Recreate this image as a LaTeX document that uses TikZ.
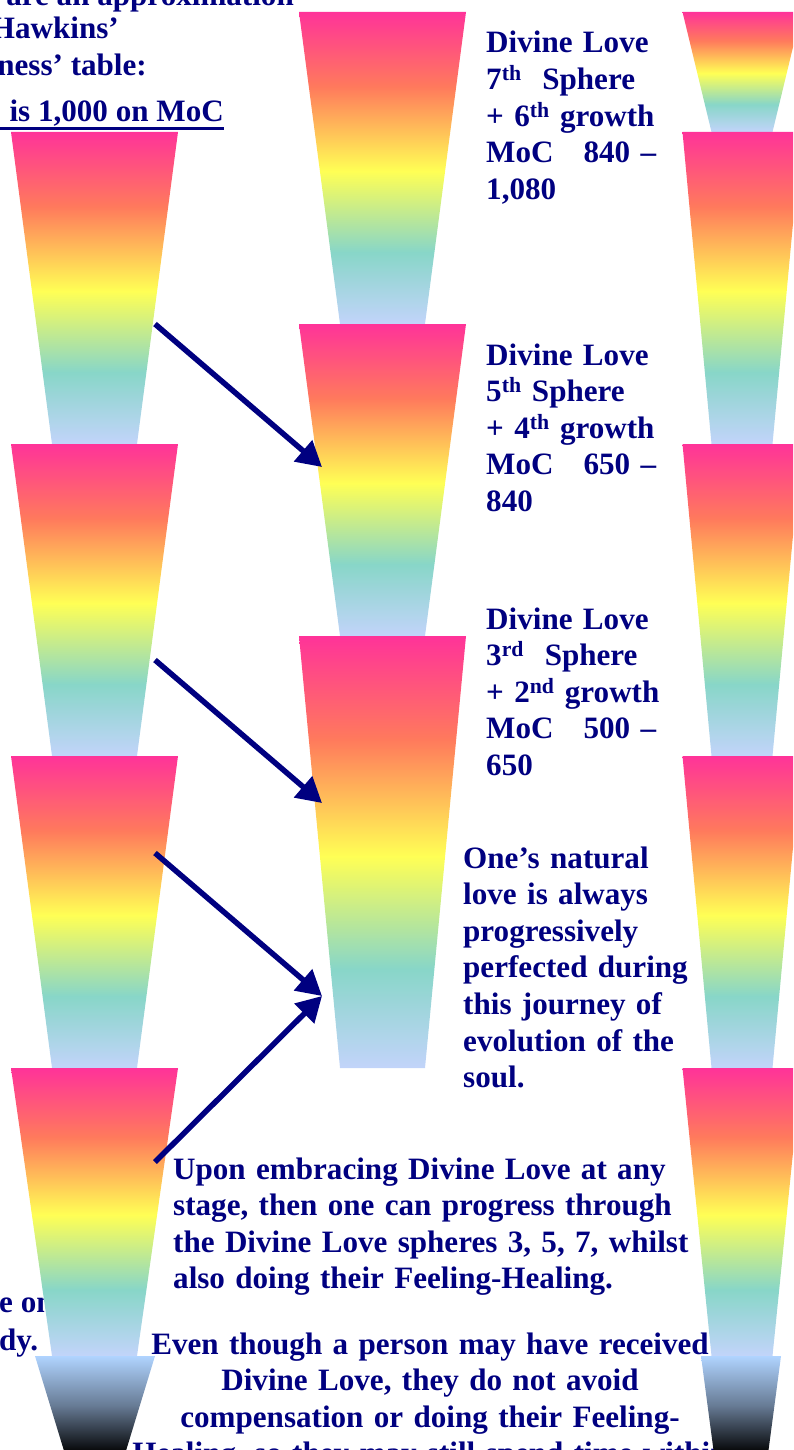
\documentclass[tikz,border=0pt]{standalone}
\usepackage{fontspec}
\setmainfont{Liberation Serif}
\usetikzlibrary{arrows.meta, calc}

\definecolor{navy}{RGB}{0,0,128}
\definecolor{cuppink}{RGB}{255,51,153}
\definecolor{cupcoral}{RGB}{255,122,92}
\definecolor{cupyellow}{RGB}{255,255,85}
\definecolor{cupteal}{RGB}{136,214,200}
\definecolor{cupblue}{RGB}{194,212,250}
\definecolor{darktop}{RGB}{176,212,255}
\definecolor{darkmid}{RGB}{104,124,150}

\pgfdeclareverticalshading{rainbowcup}{100bp}{color(0bp)=(cupblue); color(25bp)=(cupblue); color(36.5bp)=(cupteal); color(49.5bp)=(cupyellow); color(63bp)=(cupcoral); color(75bp)=(cuppink); color(100bp)=(cuppink)}
\pgfdeclareverticalshading{darkcup}{100bp}{color(0bp)=(black); color(25bp)=(black); color(50bp)=(darkmid); color(75bp)=(darktop); color(100bp)=(darktop)}

% cup: name, shading, centre x, top y, bottom y, top half width, bottom half width
\newcommand{\drawcup}[7]{%
  \shade[shading=#2] ({#3-#6},-#4) coordinate (#1-tl) -- ({#3+#6},-#4) coordinate (#1-tr)
    -- ({#3+#7},-#5) coordinate (#1-br) -- ({#3-#7},-#5) coordinate (#1-bl) -- cycle;}

\begin{document}
\begin{tikzpicture}[
    x=1pt, y=1pt,
    note/.style={inner sep=0pt, text=navy, font=\fontsize{31.1}{36.6}\selectfont\bfseries},
    block/.style={note, text width=560pt, align=left, anchor=base west},
    link/.style={draw=navy, line width=5.5pt, -{Triangle[length=25pt, width=27pt]}}
]
    \useasboundingbox (0,0) rectangle (793,-1450);
    \clip (0,0) rectangle (793,-1450);

    % texts (behind the cups)
    \node[note, anchor=base east] (intro1) at (294,-6) {are an approximation};
    \node[note, anchor=base east] (intro2) at (119,-39) {Hawkins'};
    \node[note, anchor=base east] (intro3) at (147,-76) {ness' table:};
    \node[note, anchor=base east] (intro4) at (224,-122) {is 1,000 on MoC};
    \draw[navy, line width=3pt] (0,-129) -- (intro4.base east |- 0,-129);

    \node[block] (sphere7) at (486,-53) {Divine Love\\7\textsuperscript{th}\ \ Sphere\\+ 6\textsuperscript{th} growth\\MoC\hspace{30pt}840 --\\1,080};
    \node[block] (sphere5) at (486,-365) {Divine Love\\5\textsuperscript{th} Sphere\\+ 4\textsuperscript{th} growth\\MoC\hspace{30pt}650 --\\840};
    \node[block] (sphere3) at (486,-629) {Divine Love\\3\textsuperscript{rd}\ \ Sphere\\+ 2\textsuperscript{nd} growth\\MoC\hspace{30pt}500 --\\650};
    \node[block] (natural) at (463,-868) {One's natural\\love is always\\progressively\\perfected during\\this journey of\\evolution of the\\soul.};
    \node[block] (embrace) at (173,-1179) {Upon embracing Divine Love at any\\stage, then one can progress through\\the Divine Love spheres 3, 5, 7, whilst\\also doing their Feeling-Healing.};
    \node[note, text width=640pt, align=center, anchor=base] (evenif) at (430,-1354) {Even though a person may have received\\Divine Love, they do not avoid\\compensation or doing their Feeling-\\Healing, so they may still spend time within};
    \node[note, anchor=base west] (frag1) at (-1,-1312) {e on};
    \node[note, anchor=base west] (frag2) at (-1,-1350) {dy.};

    % left column
    \drawcup{L1}{rainbowcup}{94.5}{132}{444}{83.5}{42.5}
    \drawcup{L2}{rainbowcup}{94.5}{444}{756}{83.5}{42.5}
    \drawcup{L3}{rainbowcup}{94.5}{756}{1068}{83.5}{42.5}
    \drawcup{L4}{rainbowcup}{94.5}{1068}{1356}{83.5}{42.5}
    \drawcup{LD}{darkcup}{95}{1356}{1454}{60}{30}
    % middle column
    \drawcup{M1}{rainbowcup}{382.5}{12}{324}{83.5}{42.5}
    \drawcup{M2}{rainbowcup}{382.5}{324}{636}{83.5}{42.5}
    \drawcup{M3}{rainbowcup}{382.5}{636}{1068}{83.5}{42.5}
    % right column
    \drawcup{R0}{rainbowcup}{742}{12}{132}{59.5}{30.5}
    \drawcup{R1}{rainbowcup}{742}{132}{444}{59.5}{30.5}
    \drawcup{R2}{rainbowcup}{742}{444}{756}{59.5}{30.5}
    \drawcup{R3}{rainbowcup}{742}{756}{1068}{59.5}{30.5}
    \drawcup{R4}{rainbowcup}{742}{1068}{1356}{59.5}{30.5}
    \drawcup{RD}{darkcup}{741}{1356}{1454}{40}{27}

    % arrows
    \coordinate (tail1) at (155,-324);  \coordinate (head1) at (322,-467);
    \coordinate (tail2) at (155,-660);  \coordinate (head2) at (322,-803);
    \coordinate (tail3) at (155,-853);  \coordinate (head3) at (322,-996);
    \coordinate (tail4) at (155,-1162);
    \draw[link] (tail1) -- (head1);
    \draw[link] (tail2) -- (head2);
    \draw[link] (tail3) -- (head3);
    \draw[link] (tail4) -- (head3);
\end{tikzpicture}
\end{document}
